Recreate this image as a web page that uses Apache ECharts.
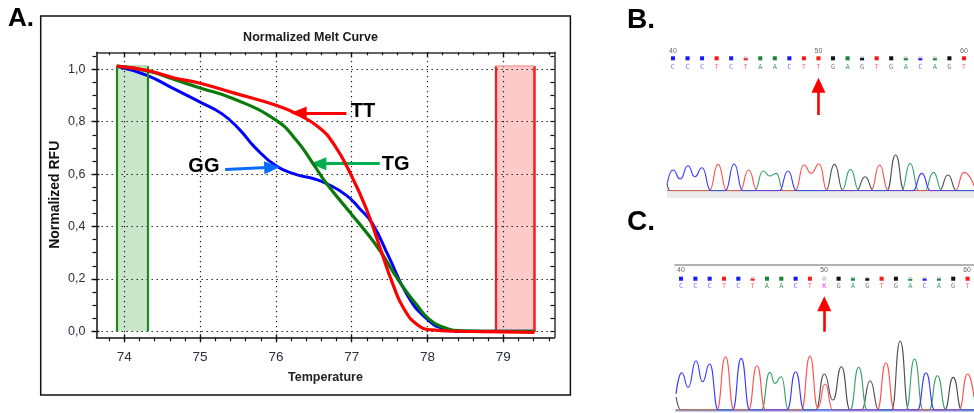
<!DOCTYPE html>
<html><head><meta charset="utf-8">
<script src="https://cdn.jsdelivr.net/npm/echarts@6/dist/echarts.min.js"></script>
<style>html,body{margin:0;padding:0;background:#fff}#c{width:974px;height:413px}</style>
</head><body><div id="c"></div>
<script>
// ---------- Panel A : Normalized Melt Curve ----------
const xTickValues = [74, 75, 76, 77, 78, 79];
const xMinorTicks = [73.8,74,74.2,74.4,74.6,74.8,75,75.2,75.4,75.6,75.8,76,76.2,76.4,76.6,76.8,77,77.2,77.4,77.6,77.8,78,78.2,78.4,78.6,78.8,79,79.2,79.4,79.6];
const yTickValues = [0, 0.2, 0.4, 0.6, 0.8, 1.0];
const yMinorTicks = [0,0.05,0.1,0.15,0.2,0.25,0.3,0.35,0.4,0.45,0.5,0.55,0.6,0.65,0.7,0.75,0.8,0.85,0.9,0.95,1.0,1.05];

const curveTT = [[73.9,1.012],[74.31,0.995],[74.65,0.968],[75.0,0.947],[75.44,0.91],[76.0,0.863],[76.27,0.831],[76.56,0.78],[76.76,0.716],[77.0,0.592],[77.2,0.462],[77.39,0.305],[77.54,0.182],[77.69,0.085],[77.88,0.022],[78.06,0.005],[78.4,0.0],[79.0,-0.002],[79.41,-0.004]];
const curveTG = [[73.9,1.012],[74.31,0.994],[74.65,0.962],[75.0,0.929],[75.44,0.888],[76.0,0.806],[76.27,0.729],[76.49,0.64],[76.66,0.567],[77.0,0.446],[77.2,0.375],[77.39,0.3],[77.55,0.225],[77.7,0.16],[77.86,0.1],[78.0,0.052],[78.2,0.016],[78.46,0.002],[79.0,0.0],[79.41,0.0]];
const curveGG = [[73.9,1.012],[74.3,0.977],[74.65,0.926],[75.0,0.875],[75.29,0.83],[75.53,0.767],[75.72,0.703],[76.0,0.632],[76.27,0.598],[76.49,0.583],[76.67,0.564],[76.93,0.519],[77.1,0.47],[77.27,0.412],[77.49,0.284],[77.73,0.14],[77.98,0.05],[78.22,0.01],[78.5,0.0],[79.0,0.0],[79.41,0.0]];

const greenWindow = [73.9, 74.31];
const redWindow = [78.9, 79.41];
const windowTop = 1.013;

const annoLabels = ['TT', 'TG', 'GG'];
const annoText = [[77.15, 0.84], [77.58, 0.637], [75.05, 0.631]];
const annoTail = [[76.93, 0.833], [77.37, 0.64], [75.33, 0.618]];
const annoTip  = [[76.3, 0.833], [76.56, 0.64], [75.95, 0.626]];
const annoColors = ['#ff0000', '#00b050', '#0a6cff'];

// ---------- Panels B / C : sequencing chromatograms ----------
const seqPositions = [40,41,42,43,44,45,46,47,48,49,50,51,52,53,54,55,56,57,58,59,60];
const posLabels = [40, 50, 60];
const seqB  = ['C','C','C','T','C','T','A','A','C','T','T','G','A','G','T','G','A','C','A','G','T'];
const qualB = [1,1,1,1,1,0.5,1,1,1,1,1,1,1,0.6,1,1,0.5,0.5,0.5,1,1];
const seqC  = ['C','C','C','T','C','T','A','A','C','T','K','G','A','G','T','G','A','C','A','G','T'];
const qualC = [1,1,1,1,1,0.5,1,1,1,1,0,1,0.6,0.6,1,1,0.4,0.5,0.5,1,1];
const arrowPos = 50;

const traceB_A = [[39.59,0],[45.6,0],[46.2,19.7],[46.65,14.7],[47.1,17.4],[47.6,0],[51.6,0],[52.2,21.4],[52.8,0],[55.7,0],[56.3,27.4],[56.9,0],[57.3,0],[57.9,18.4],[58.5,0],[60.69,0]];
const traceB_T = [[39.59,0],[42.5,0],[43.1,26.4],[43.7,0],[44.6,0],[45.2,20.7],[45.8,0],[48.4,0],[49.0,25.7],[49.5,17.4],[50.05,26.7],[50.6,0],[53.6,0],[54.2,25.7],[54.8,0],[59.4,0],[60.0,18.4],[60.69,5]];
const traceB_G = [[39.59,7],[39.8,0],[50.5,0],[51.1,26.4],[51.7,0],[52.6,0],[53.2,14],[53.8,0],[54.7,0],[55.3,35.7],[55.9,0],[58.3,0],[58.9,15.7],[59.5,0],[60.69,0]];
const traceB_C = [[39.61,7.4],[40.0,20.7],[40.5,11.7],[41.03,25],[41.5,14],[42.0,23],[42.6,0],[43.6,0],[44.2,26.7],[44.8,0],[47.3,0],[47.9,19.7],[48.5,0],[56.5,0],[57.1,17.4],[57.7,0],[60.69,0]];

const traceC_A = [[39.65,0],[45.6,0],[46.2,37.7],[46.55,26.7],[47.0,33.3],[47.5,0],[51.8,0],[52.4,42.7],[53.0,0],[55.7,0],[56.3,51],[56.9,0],[57.3,0],[57.9,34.3],[58.5,0],[60.45,0]];
const traceC_T = [[39.65,0],[42.5,0],[43.1,53.3],[43.7,0],[44.7,0],[45.3,44.3],[45.9,0],[48.4,0],[49.0,54],[49.55,2],[50.05,26],[50.6,0],[53.7,0],[54.3,47.3],[54.9,0],[59.4,0],[60.0,36],[60.45,13]];
const traceC_G = [[39.65,13],[40.0,0],[49.4,0],[50.0,36],[50.6,10],[51.2,43.3],[51.8,0],[52.6,0],[53.2,29.3],[53.8,0],[54.7,0],[55.3,69],[55.9,0],[58.4,0],[59.0,32.7],[59.6,0],[60.45,0]];
const traceC_C = [[39.65,16],[40.05,37.3],[40.5,22.7],[41.05,49.3],[41.5,28.3],[42.0,46],[42.6,0],[43.6,0],[44.2,51.7],[44.8,0],[47.4,0],[48.0,38.3],[48.6,0],[56.5,0],[57.1,37.3],[57.7,0],[60.45,0]];

// ---------- styles ----------
const SANS = "'Liberation Sans',Arial,sans-serif";
const squareColors = {C:'#1a1aff', T:'#ff1a1a', A:'#138a3a', G:'#111111', K:'#d8d8d8'};
const letterColors = {C:'#7a7aff', T:'#ff7070', A:'#4aa070', G:'#7a7a7a', K:'#ff40ff'};
const traceColors = {A:'#3aa36a', T:'#ff5050', G:'#505050', C:'#3b3bff'};

const AXR = {min:73.633, max:79.674};
const AYR = {min:-0.023, max:1.065};
const BX = {min:39.59, max:60.69};
const CX = {min:39.58, max:60.45};
const blk = '#111';

function ax(extra){
  return Object.assign({type:'value', splitLine:{show:false}, axisLabel:{show:false},
    axisLine:{show:false, onZero:false}, axisTick:{show:false}}, extra);
}
const fmt = v => v.toFixed(1).replace('.', ',');
const letterRich = {};
Object.keys(letterColors).forEach(k => { letterRich[k] = {color: letterColors[k], fontSize: 7, fontFamily: "'DejaVu Sans Mono',monospace"}; });
function letterFormatter(seq){ return v => { const b = seq[seqPositions.indexOf(Math.round(v))]; return b ? '{' + b + '|' + b + '}' : ''; }; }

const xAxes = [
  // main grid (0)
  ax({gridIndex:0, position:'bottom', ...AXR, axisLine:{show:true, onZero:false, lineStyle:{color:blk, width:1.5}},
      axisTick:{show:true, customValues:xTickValues, length:5, lineStyle:{color:blk, width:1.3}},
      axisLabel:{show:true, customValues:xTickValues, fontSize:13.5, fontFamily:SANS, color:'#2d2d3d', margin:13},
      name:'Temperature', nameLocation:'middle', nameGap:34,
      nameTextStyle:{fontSize:12.5, fontWeight:'bold', fontFamily:SANS, color:'#222'}}),
  ax({gridIndex:0, position:'bottom', ...AXR, axisTick:{show:true, customValues:xMinorTicks, length:4, lineStyle:{color:blk, width:1.2}}}),
  ax({gridIndex:0, position:'bottom', ...AXR, axisTick:{show:true, inside:true, customValues:xTickValues, length:3, lineStyle:{color:blk, width:1.3}}}),
  ax({gridIndex:0, position:'top', ...AXR, axisLine:{show:true, onZero:false, lineStyle:{color:'#333', width:1.5}},
      axisTick:{show:true, inside:true, customValues:xMinorTicks, length:3, lineStyle:{color:blk, width:1.2}}}),
  ax({gridIndex:0, position:'top', ...AXR, axisTick:{show:true, inside:true, customValues:xTickValues, length:5, lineStyle:{color:blk, width:1.3}}}),
  // B header (grid 1)
  ax({gridIndex:1, position:'top', ...BX, axisLabel:{show:true, customValues:posLabels, fontSize:7, color:'#666', margin:2, fontFamily:SANS}}),
  ax({gridIndex:1, position:'bottom', ...BX, axisLabel:{show:true, customValues:seqPositions, margin:3, formatter:letterFormatter(seqB), rich:letterRich}}),
  // B arrow (grid 2), B trace (grid 3)
  ax({gridIndex:2, show:false, ...BX}),
  ax({gridIndex:3, show:false, ...BX}),
  // C ruler (grid 5)
  ax({gridIndex:5, position:'top', ...CX, axisLine:{show:true, onZero:false, lineStyle:{color:'#9a9a9a', width:1.5}},
      axisLabel:{show:true, inside:true, customValues:posLabels, fontSize:7, color:'#666', margin:2, fontFamily:SANS}}),
  // C header (grid 6)
  ax({gridIndex:6, position:'bottom', ...CX, axisLabel:{show:true, customValues:seqPositions, margin:2, formatter:letterFormatter(seqC), rich:letterRich}}),
  ax({gridIndex:7, show:false, ...CX}),
  ax({gridIndex:8, show:false, ...CX})
];
const yAxes = [
  ax({gridIndex:0, position:'left', ...AYR, axisLine:{show:true, onZero:false, lineStyle:{color:blk, width:1.5}},
      axisTick:{show:true, customValues:yTickValues, length:5, lineStyle:{color:blk, width:1.3}},
      axisLabel:{show:true, customValues:yTickValues, formatter:fmt, fontSize:12.5, fontFamily:SANS, color:'#2d2d3d', margin:11},
      name:'Normalized RFU', nameLocation:'middle', nameGap:34, nameRotate:90,
      nameTextStyle:{fontSize:14, fontWeight:'bold', fontFamily:SANS, color:'#111'}}),
  ax({gridIndex:0, position:'left', ...AYR, axisTick:{show:true, customValues:yMinorTicks, length:4, lineStyle:{color:blk, width:1.2}}}),
  ax({gridIndex:0, position:'left', ...AYR, axisTick:{show:true, inside:true, customValues:yTickValues, length:3, lineStyle:{color:blk, width:1.3}}}),
  ax({gridIndex:0, position:'right', ...AYR, axisLine:{show:true, onZero:false, lineStyle:{color:'#333', width:1.5}},
      axisTick:{show:true, inside:true, customValues:yMinorTicks, length:4, lineStyle:{color:blk, width:1.2}}}),
  ax({gridIndex:1, show:false, min:0, max:1}),
  ax({gridIndex:2, show:false, min:0, max:1}),
  ax({gridIndex:3, show:false, min:0, max:40}),
  ax({gridIndex:5, show:false, min:0, max:1}),
  ax({gridIndex:6, show:false, min:0, max:1}),
  ax({gridIndex:7, show:false, min:0, max:1}),
  ax({gridIndex:8, show:false, min:0, max:70})
];

const grids = [
  {left:96.5, top:52.3, width:457.9, height:285},          // 0 main
  {left:667, top:56.3, width:307, height:4},               // 1 B header
  {left:667, top:85.3, width:307, height:29.7},            // 2 B arrow
  {left:667, top:150.7, width:307, height:40},             // 3 B trace
  {left:667, top:191.6, width:307, height:6.4, show:true, backgroundColor:'#ebebeb', borderWidth:0}, // 4 band
  {left:675, top:265, width:299, height:5},                // 5 C ruler
  {left:675, top:276.7, width:299, height:4},              // 6 C header
  {left:675, top:303.7, width:299, height:28},             // 7 C arrow
  {left:675, top:340, width:299, height:70},               // 8 C trace
  {left:675, top:409.2, width:299, height:2.6, show:true, backgroundColor:'#b4b4ff', borderWidth:0} // 9 band
];

const dotted = {color:'#1a1a1a', width:1.2, type:[1.4, 3.6]};
const traceLine = (xi, yi, data, color) => ({type:'line', xAxisIndex:xi, yAxisIndex:yi, data:data, smooth:0.55, smoothMonotone:'x',
  showSymbol:false, lineStyle:{color:color, width:1.15}, silent:true});
const series = [
  { type:'line', xAxisIndex:0, yAxisIndex:0, data:[], z:1, silent:true,
    markArea:{silent:true, data:[
      [{coord:[greenWindow[0],0], itemStyle:{color:'rgba(150,205,150,0.5)'}}, {coord:[greenWindow[1],windowTop]}],
      [{coord:[redWindow[0],-0.003], itemStyle:{color:'rgba(252,150,150,0.5)'}}, {coord:[redWindow[1],windowTop]}]
    ]}},
  { type:'line', xAxisIndex:0, yAxisIndex:0, data:[], z:2, silent:true,
    markLine:{silent:true, symbol:['none','none'], label:{show:false}, lineStyle:dotted, animation:false,
      data: xTickValues.map(v => ({xAxis:v})).concat(yTickValues.map(v => ({yAxis:v})))}},
  { type:'line', xAxisIndex:0, yAxisIndex:0, data:[], z:3, silent:true,
    markLine:{silent:true, symbol:['none','none'], label:{show:false}, animation:false,
      data:[
        [{coord:[greenWindow[0],0], lineStyle:{color:'#1e8a1e', width:2.2, type:'solid'}}, {coord:[greenWindow[0],windowTop]}],
        [{coord:[greenWindow[1],0], lineStyle:{color:'#1e8a1e', width:2.2, type:'solid'}}, {coord:[greenWindow[1],windowTop]}],
        [{coord:[greenWindow[0],windowTop], lineStyle:{color:'#a8d4a8', width:1.5, type:'solid'}}, {coord:[greenWindow[1],windowTop]}],
        [{coord:[redWindow[0],-0.003], lineStyle:{color:'#ff1a1a', width:2.2, type:'solid'}}, {coord:[redWindow[0],windowTop]}],
        [{coord:[redWindow[1],-0.003], lineStyle:{color:'#ff1a1a', width:2.5, type:'solid'}}, {coord:[redWindow[1],windowTop]}],
        [{coord:[redWindow[0],windowTop], lineStyle:{color:'#f7a0a0', width:1.5, type:'solid'}}, {coord:[redWindow[1],windowTop]}]
      ]}},
  { name:'GG', type:'line', xAxisIndex:0, yAxisIndex:0, data:curveGG, smooth:0.5, showSymbol:false, z:4,
    lineStyle:{color:'#0000ff', width:3}},
  { name:'TG', type:'line', xAxisIndex:0, yAxisIndex:0, data:curveTG, smooth:0.5, showSymbol:false, z:5,
    lineStyle:{color:'#0a7a0a', width:3.2}},
  { name:'TT', type:'line', xAxisIndex:0, yAxisIndex:0, data:curveTT, smooth:0.5, showSymbol:false, z:6,
    lineStyle:{color:'#ff0000', width:3.2}},
  { type:'scatter', xAxisIndex:0, yAxisIndex:0, z:7, silent:true, symbolSize:1, itemStyle:{color:'#ffffff', opacity:0},
    data: annoLabels.map((t,i) => ({name:t, value:annoText[i]})),
    label:{show:true, position:'inside', formatter:p => p.name, fontSize:20, fontWeight:'bold', fontFamily:SANS,
      color:'#000000', opacity:1, textBorderWidth:0},
    markLine:{silent:true, symbol:['none','triangle'], symbolSize:[13,16], label:{show:false}, animation:false,
      data: annoLabels.map((t,i) => [{coord:annoTail[i], lineStyle:{color:annoColors[i], width:3, type:'solid', opacity:1}, itemStyle:{color:annoColors[i], opacity:1}}, {coord:annoTip[i]}])}},

  // ---- Panel B ----
  { type:'bar', xAxisIndex:6, yAxisIndex:4, barWidth:4, showBackground:true, backgroundStyle:{color:'#d4d4d4'}, silent:true,
    data: seqB.map((b,i) => ({value:[seqPositions[i], qualB[i]], itemStyle:{color:squareColors[b]}}))},
  { type:'line', xAxisIndex:7, yAxisIndex:5, data:[[arrowPos,0],[arrowPos,1]], showSymbol:false, lineStyle:{width:0, opacity:0}, silent:true,
    markLine:{silent:true, symbol:['none','triangle'], symbolSize:[14,15], label:{show:false}, animation:false,
      lineStyle:{color:'#ff0000', width:2.6, type:'solid'}, itemStyle:{color:'#ff0000'},
      data:[[{coord:[arrowPos,0]},{coord:[arrowPos,1]}]]}},
  traceLine(8, 6, traceB_G, traceColors.G),
  traceLine(8, 6, traceB_A, traceColors.A),
  traceLine(8, 6, traceB_T, traceColors.T),
  traceLine(8, 6, traceB_C, traceColors.C),

  // ---- Panel C ----
  { type:'bar', xAxisIndex:10, yAxisIndex:8, barWidth:4, showBackground:true, backgroundStyle:{color:'#d4d4d4'}, silent:true,
    data: seqC.map((b,i) => ({value:[seqPositions[i], qualC[i]], itemStyle:{color:squareColors[b]}}))},
  { type:'line', xAxisIndex:11, yAxisIndex:9, data:[[arrowPos,0],[arrowPos,1]], showSymbol:false, lineStyle:{width:0, opacity:0}, silent:true,
    markLine:{silent:true, symbol:['none','triangle'], symbolSize:[14,15], label:{show:false}, animation:false,
      lineStyle:{color:'#ff0000', width:2.6, type:'solid'}, itemStyle:{color:'#ff0000'},
      data:[[{coord:[arrowPos,0]},{coord:[arrowPos,1]}]]}},
  traceLine(12, 10, traceC_G, traceColors.G),
  traceLine(12, 10, traceC_A, traceColors.A),
  traceLine(12, 10, traceC_T, traceColors.T),
  traceLine(12, 10, traceC_C, traceColors.C)
];

const chart = echarts.init(document.getElementById('c'), null, {renderer:'canvas'});
chart.setOption({
  animation:false,
  backgroundColor:'#ffffff',
  title:{text:'Normalized Melt Curve', left:305.5, top:26, textAlign:'center',
    textStyle:{fontSize:12.5, fontWeight:'bold', fontFamily:SANS, color:'#1a1a1a'}},
  grid:grids, xAxis:xAxes, yAxis:yAxes, series:series,
  graphic:[
    {type:'rect', shape:{x:40.7, y:16, width:529.7, height:379}, style:{fill:null, stroke:'#111', lineWidth:1.5}, silent:true},
    {type:'text', left:8, top:6, style:{text:'A.', font:"bold 26px 'Liberation Sans', Arial, sans-serif", fill:'#000'}},
    {type:'text', left:627, top:6, style:{text:'B.', font:"bold 28px 'Liberation Sans', Arial, sans-serif", fill:'#000'}},
    {type:'text', left:627, top:208, style:{text:'C.', font:"bold 28px 'Liberation Sans', Arial, sans-serif", fill:'#000'}}
  ]
});
</script></body></html>
